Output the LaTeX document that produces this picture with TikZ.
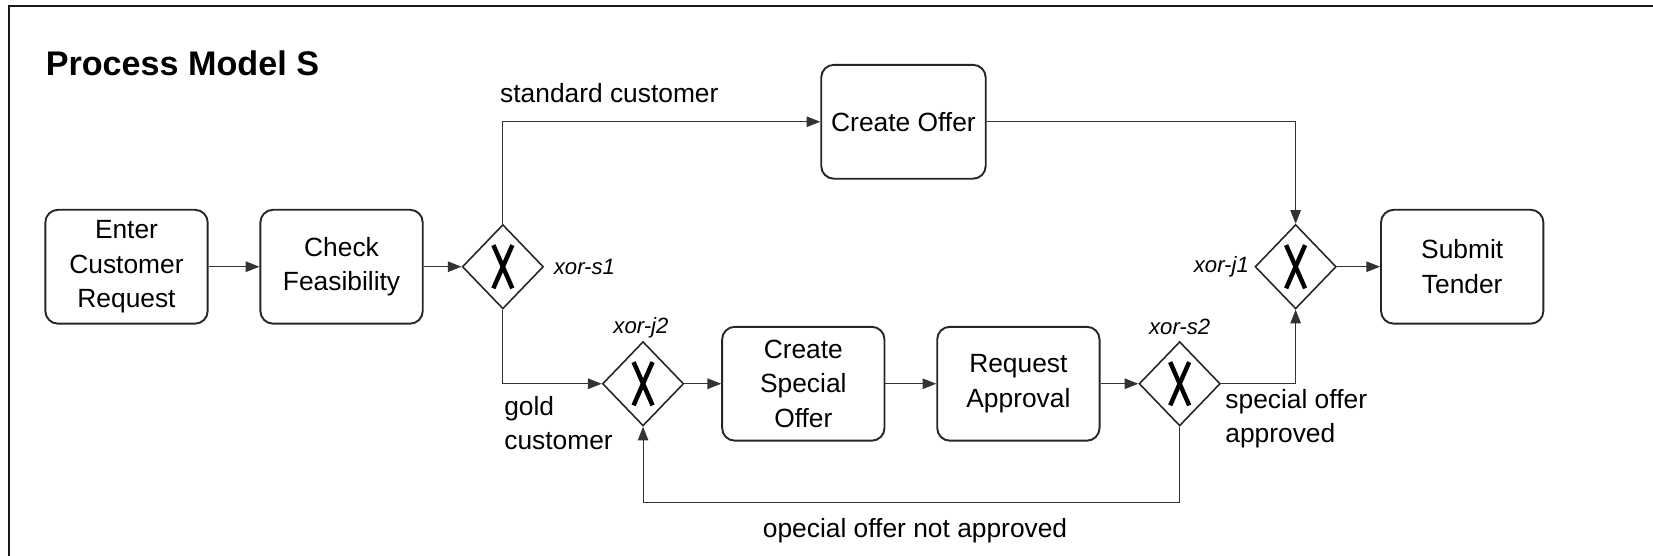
\documentclass[tikz,border=0pt]{standalone}
\usepackage{fontspec}
\setmainfont{Liberation Sans}
\usetikzlibrary{shapes.geometric,arrows.meta}

\begin{document}
\begin{tikzpicture}[x=0.5pt,y=-0.5pt,
  task/.style={draw=black!85,line width=0.9pt,rectangle,rounded corners=6pt,
    minimum width=77pt,minimum height=54pt,inner sep=2pt,align=center,
    font=\fontsize{12.5}{16.5}\selectfont},
  gate/.style={draw=black!85,line width=0.75pt,diamond,inner sep=0pt,
    minimum width=38.5pt,minimum height=40pt},
  flow/.style={draw=black!80,line width=0.5pt,-{Triangle[length=6.5pt,width=5pt]}},
  cond/.style={inner sep=0pt,align=left,font=\fontsize{12.5}{16}\selectfont},
  gname/.style={inner sep=0pt,font=\fontsize{10.5}{12}\selectfont\itshape},
  xmark/.style={line width=2.1pt,black}
]
\useasboundingbox (0,0) rectangle (1568,527);

% frame edges
\draw[line width=1pt,black!90] (8.5,527) -- (8.5,5.5) -- (1568,5.5);

% title
\node[anchor=west,inner sep=0pt,font=\fontsize{16.2}{18}\selectfont\bfseries] (title) at (43,60) {Process Model S};

% activities
\node[task] (enter)    at (120,253)   {Enter\\Customer\\Request};
\node[task] (check)    at (324,253)   {Check\\Feasibility};
\node[task,minimum width=78pt] (offer) at (857,115.5) {Create Offer};
\node[task] (special)  at (762,364)   {Create\\Special\\Offer};
\node[task] (approval) at (966,364)   {Request\\Approval};
\node[task] (tender)   at (1387,253)  {Submit\\Tender};

% gateways
\node[gate] (s1) at (477,253)  {};
\node[gate] (j2) at (610,364)  {};
\node[gate] (s2) at (1119,364) {};
\node[gate] (j1) at (1229,253) {};
\foreach \g in {s1,j2,s2,j1}{
  \draw[xmark] ([shift={(-9,-20.5)}]\g.center) -- ([shift={(9,20.5)}]\g.center);
  \draw[xmark] ([shift={(9,-20.5)}]\g.center) -- ([shift={(-9,20.5)}]\g.center);
}

% gateway names
\node[gname,anchor=west] (ls1) at (525,253)  {xor-s1};
\node[gname] (lj2) at (608,311)  {xor-j2};
\node[gname] (ls2) at (1119,310) {xor-s2};
\node[gname,anchor=east] (lj1) at (1185,253) {xor-j1};

% sequence flows
\draw[flow] (enter.east) -- (check.west);
\draw[flow] (check.east) -- (s1.west);
\draw[flow] (s1.north) |- (offer.west);
\draw[flow] (s1.south) |- (j2.west);
\draw[flow] (j2.east) -- (special.west);
\draw[flow] (special.east) -- (approval.west);
\draw[flow] (approval.east) -- (s2.west);
\draw[flow] (s2.east) -| (j1.south);
\draw[flow] (offer.east) -| (j1.north);
\draw[flow] (j1.east) -- (tender.west);
\coordinate (loop) at (1119,477);
\draw[flow] (s2.south) -- (loop) -| (j2.south);

% flow conditions
\node[cond] (cstd)  at (578,88)  {standard customer};
\node[cond,anchor=west] (cgold) at (478,401) {gold\\customer};
\node[cond,anchor=west] (cappr) at (1162,397) {special offer\\approved};
\node[cond] (cnot)  at (868,503) {opecial offer not approved};
\end{tikzpicture}
\end{document}
